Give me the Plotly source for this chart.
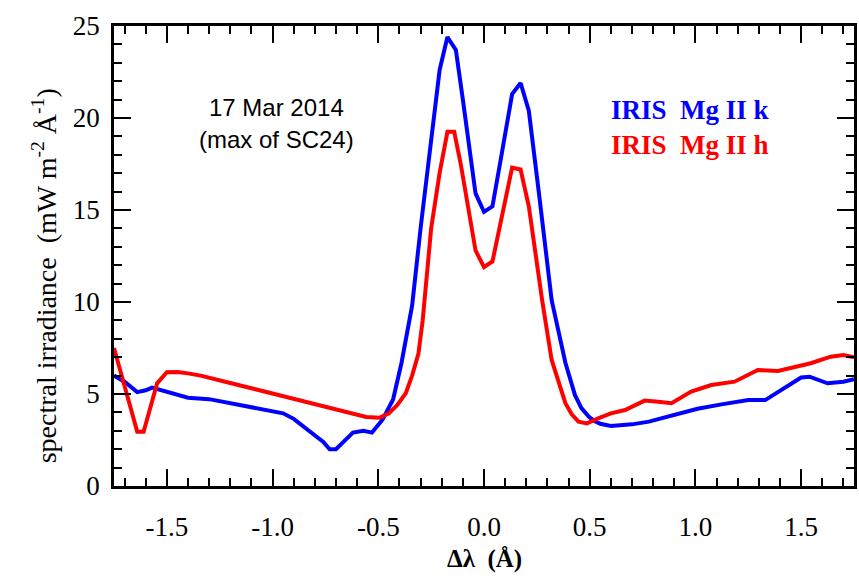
import plotly.graph_objects as go

# ---------------- data ----------------
k_wave = [-1.75, -1.70, -1.64, -1.60, -1.57, -1.52, -1.46, -1.40, -1.30, -1.20, -1.11, -1.00,
          -0.95, -0.90, -0.85, -0.81, -0.76, -0.73, -0.70, -0.66, -0.62, -0.57, -0.53, -0.48,
          -0.43, -0.39, -0.34, -0.30, -0.25, -0.21, -0.173, -0.133, -0.10, -0.04, 0.0, 0.04,
          0.08, 0.133, 0.173, 0.212, 0.26, 0.32, 0.385, 0.43, 0.46, 0.495, 0.52, 0.55, 0.60,
          0.70, 0.78, 0.90, 1.01, 1.13, 1.25, 1.33, 1.405, 1.50, 1.54, 1.58, 1.625, 1.70, 1.75]
k_irr = [6.0, 5.67, 5.1, 5.2, 5.35, 5.2, 5.0, 4.8, 4.72, 4.5, 4.3, 4.1,
         3.95, 3.65, 3.2, 2.9, 2.4, 2.0, 2.0, 2.45, 2.9, 3.0, 2.9, 3.6,
         4.7, 6.7, 9.8, 14.0, 18.9, 22.6, 24.4, 23.7, 21.0, 15.9, 14.9, 15.2,
         17.8, 21.3, 21.9, 20.4, 15.9, 10.1, 6.7, 4.95, 4.25, 3.77, 3.55, 3.38, 3.26,
         3.35, 3.5, 3.85, 4.2, 4.45, 4.67, 4.67, 5.2, 5.9, 5.94, 5.75, 5.58, 5.67, 5.8]

h_wave = [-1.75, -1.70, -1.64, -1.61, -1.546, -1.50, -1.45, -1.40, -1.34, -1.20, -1.00,
          -0.80, -0.65, -0.557, -0.495, -0.45, -0.41, -0.37, -0.34, -0.31, -0.29, -0.25,
          -0.21, -0.173, -0.141, -0.11, -0.04, 0.0, 0.04, 0.133, 0.173, 0.212, 0.275,
          0.32, 0.385, 0.415, 0.447, 0.487, 0.54, 0.60, 0.667, 0.76, 0.824, 0.887, 0.98,
          1.075, 1.185, 1.295, 1.39, 1.452, 1.546, 1.64, 1.70, 1.75]
h_irr = [7.5, 5.43, 2.95, 2.95, 5.58, 6.18, 6.2, 6.12, 6.0, 5.6, 5.02,
         4.44, 3.98, 3.75, 3.71, 3.95, 4.4, 5.04, 6.0, 7.2, 9.0, 14.0,
         17.0, 19.25, 19.25, 17.5, 12.8, 11.9, 12.2, 17.3, 17.2, 15.2, 10.1,
         6.85, 4.5, 3.9, 3.5, 3.4, 3.68, 3.95, 4.13, 4.64, 4.58, 4.5, 5.13,
         5.49, 5.67, 6.3, 6.25, 6.4, 6.67, 7.03, 7.12, 7.0]

x_tick_vals = [-1.5, -1.0, -0.5, 0.0, 0.5, 1.0, 1.5]
x_tick_text = ["-1.5", "-1.0", "-0.5", "0.0", "0.5", "1.0", "1.5"]
y_tick_vals = [0, 5, 10, 15, 20, 25]
y_tick_text = ["0", "5", "10", "15", "20", "25"]

label_k = "IRIS\u00a0\u00a0Mg II k"
label_h = "IRIS\u00a0\u00a0Mg II h"
date_text = "17 Mar 2014"
note_text = "(max of SC24)"
y_title = "spectral irradiance\u00a0\u00a0(mW m<sup>-2</sup> Å<sup>-1</sup>)"
x_title = "<b>Δλ\u00a0\u00a0(Å)</b>"

# ---------------- figure ----------------
SERIF = "Liberation Serif, Times New Roman, serif"
SANS = "Liberation Sans, Arial, sans-serif"

fig = go.Figure()
fig.add_trace(go.Scatter(x=k_wave, y=k_irr, mode="lines",
                         line=dict(color="#0000ff", width=4), name=label_k))
fig.add_trace(go.Scatter(x=h_wave, y=h_irr, mode="lines",
                         line=dict(color="#ff0000", width=4), name=label_h))

axis_common = dict(
    showline=True, linewidth=2.5, linecolor="black", mirror="allticks",
    ticks="inside", ticklen=17, tickwidth=2, tickcolor="black",
    showgrid=False, zeroline=False,
    tickfont=dict(family=SERIF, size=27, color="black"),
)

fig.update_xaxes(range=[-1.75, 1.75], tickmode="array", tickvals=x_tick_vals,
                 ticktext=x_tick_text, ticklabelstandoff=15,
                 minor=dict(dtick=0.1, tick0=0, ticks="inside", ticklen=8,
                            tickwidth=2, tickcolor="black", showgrid=False),
                 **axis_common)
fig.update_yaxes(range=[0, 25], tickmode="array", tickvals=y_tick_vals,
                 ticktext=y_tick_text, ticklabelstandoff=6,
                 minor=dict(dtick=1, tick0=0, ticks="inside", ticklen=8,
                            tickwidth=2, tickcolor="black", showgrid=False),
                 **axis_common)

fig.update_layout(
    width=859, height=579,
    margin=dict(l=114, r=2, t=26, b=93),
    plot_bgcolor="white", paper_bgcolor="white",
    showlegend=False,
)

annots = [
    dict(text=date_text, x=(277 - 114) / 743, y=(486 - 108) / 460,
         font=dict(family=SANS, size=24, color="black")),
    dict(text=note_text, x=(277 - 114) / 743, y=(486 - 139) / 460,
         font=dict(family=SANS, size=24, color="black")),
    dict(text="<b>" + label_k + "</b>", x=(611 - 114) / 743, y=(486 - 110) / 460,
         xanchor="left", font=dict(family=SERIF, size=27, color="#0000ff")),
    dict(text="<b>" + label_h + "</b>", x=(611 - 114) / 743, y=(486 - 145) / 460,
         xanchor="left", font=dict(family=SERIF, size=27, color="#ff0000")),
    dict(text=y_title, x=(44 - 114) / 743, y=(486 - 276) / 460, textangle=-90,
         font=dict(family=SERIF, size=28, color="black")),
    dict(text=x_title, x=(486 - 114) / 743, y=(486 - 559) / 460,
         font=dict(family=SERIF, size=25, color="black")),
]
for a in annots:
    a.setdefault("xanchor", "center")
    fig.add_annotation(xref="paper", yref="paper", yanchor="middle",
                       showarrow=False, **a)

fig.write_html("out.html")
